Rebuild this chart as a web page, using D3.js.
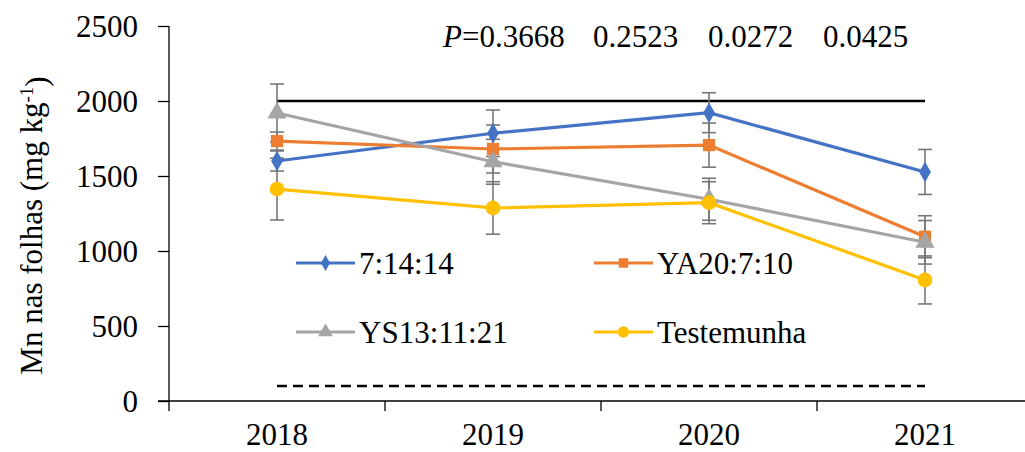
<!DOCTYPE html>
<html>
<head>
<meta charset="utf-8">
<script src="https://cdn.jsdelivr.net/npm/d3@7"></script>
<style>
  body { margin: 0; background: #fff; }
</style>
</head>
<body>
<script>
// Data
const years = ["2018", "2019", "2020", "2021"];
const seriesNames = ["7:14:14", "YA20:7:10", "YS13:11:21", "Testemunha"];
const valsA = [1600, 1785, 1922, 1527];
const valsB = [1733, 1680, 1706, 1095];
const valsC = [1920, 1595, 1345, 1058];
const valsD = [1413, 1287, 1322, 807];
const errA = [67, 155, 133, 150];
const errB = [60, 160, 147, 140];
const errC = [193, 150, 140, 145];
const errD = [206, 175, 140, 160];
const yTicks = [0, 500, 1000, 1500, 2000, 2500];
const pLabels = ["0.3668", "0.2523", "0.0272", "0.0425"];
const upperRef = 2000, lowerRef = 100;

const colors = ["#4472C4", "#ED7D31", "#A5A5A5", "#FFC000"];
const shapes = [d3.symbolDiamond, d3.symbolSquare, d3.symbolTriangle, d3.symbolCircle];
const symSize = [120, 150, 160, 170];
const FONT = "'Liberation Serif'";
const FS = 31;

const W = 1025, H = 452;
const margin = {top: 26, right: -8, bottom: 51, left: 169};

const svg = d3.select("body").append("svg")
  .attr("width", W).attr("height", H);

const x = d3.scaleBand().domain(years)
  .range([margin.left, W - margin.right]).padding(0);
const y = d3.scaleLinear().domain([0, 2500])
  .range([H - margin.bottom, margin.top]);
const cx = d => x(d) + x.bandwidth() / 2;

// y axis
const yAxis = svg.append("g")
  .attr("transform", `translate(${margin.left},0)`)
  .call(d3.axisLeft(y).tickValues(yTicks).tickFormat(d3.format("d"))
    .tickSize(11).tickPadding(20));
yAxis.attr("font-family", FONT).attr("font-size", FS);
yAxis.selectAll("text").attr("fill", "#000").attr("dy", "0.34em");
yAxis.selectAll("line, path").attr("stroke", "#000").attr("stroke-width", 1.3);
yAxis.select(".domain").attr("d", `M-0,${y(2500)}H0V${y(0)}`);

// x axis: labels at band centres, ticks at band edges
const xAxis = svg.append("g")
  .attr("transform", `translate(0,${y(0)})`)
  .call(d3.axisBottom(x).tickSize(0).tickPadding(22));
xAxis.attr("font-family", FONT).attr("font-size", FS);
xAxis.selectAll("text").attr("fill", "#000");
xAxis.select(".domain").attr("stroke", "#000").attr("stroke-width", 1.3)
  .attr("d", `M${margin.left - 11},0H${W - margin.right}`);
xAxis.selectAll(".edge").data(years.concat(["end"])).join("line")
  .attr("class", "edge")
  .attr("x1", (d, i) => margin.left + i * x.bandwidth())
  .attr("x2", (d, i) => margin.left + i * x.bandwidth())
  .attr("y1", 0).attr("y2", 10)
  .attr("stroke", "#000").attr("stroke-width", 1.3);

// reference lines
svg.append("line")
  .attr("x1", cx(years[0])).attr("x2", cx(years[3]))
  .attr("y1", y(upperRef)).attr("y2", y(upperRef))
  .attr("stroke", "#000").attr("stroke-width", 2.5);
svg.append("line")
  .attr("x1", cx(years[0])).attr("x2", cx(years[3]))
  .attr("y1", y(lowerRef)).attr("y2", y(lowerRef))
  .attr("stroke", "#000").attr("stroke-width", 2.5)
  .attr("stroke-dasharray", "10,6");

const series = [
  {name: seriesNames[0], v: valsA, e: errA},
  {name: seriesNames[1], v: valsB, e: errB},
  {name: seriesNames[2], v: valsC, e: errC},
  {name: seriesNames[3], v: valsD, e: errD}
];

// error bars
series.forEach(s => {
  const g = svg.append("g").attr("stroke", "#777").attr("stroke-width", 1.6);
  years.forEach((yr, i) => {
    const lo = y(s.v[i] - s.e[i]), hi = y(s.v[i] + s.e[i]);
    g.append("line").attr("x1", cx(yr)).attr("x2", cx(yr)).attr("y1", lo).attr("y2", hi);
    g.append("line").attr("x1", cx(yr) - 7).attr("x2", cx(yr) + 7).attr("y1", lo).attr("y2", lo);
    g.append("line").attr("x1", cx(yr) - 7).attr("x2", cx(yr) + 7).attr("y1", hi).attr("y2", hi);
  });
});

// lines and markers
const line = d3.line().x((d, i) => cx(years[i])).y(d => y(d));
series.forEach((s, k) => {
  svg.append("path").datum(s.v)
    .attr("d", line).attr("fill", "none")
    .attr("stroke", colors[k]).attr("stroke-width", 3.2);
  svg.append("g").selectAll("path").data(s.v).join("path")
    .attr("d", d3.symbol().type(shapes[k]).size(symSize[k]))
    .attr("transform", (d, i) => `translate(${cx(years[i])},${y(d)})`)
    .attr("fill", colors[k]);
});

// legend
const legPos = [[296, 263], [594, 263], [296, 332], [594, 332]];
series.forEach((s, k) => {
  const [lx, ly] = legPos[k];
  const g = svg.append("g").attr("transform", `translate(${lx},${ly})`);
  g.append("line").attr("x1", 0).attr("x2", 59).attr("y1", 0).attr("y2", 0)
    .attr("stroke", colors[k]).attr("stroke-width", 3.2);
  g.append("path").attr("d", d3.symbol().type(shapes[k]).size(symSize[k] * 0.6))
    .attr("transform", "translate(29.5,0)").attr("fill", colors[k]);
  g.append("text").attr("x", 63).attr("y", 11)
    .attr("font-family", FONT).attr("font-size", FS).text(s.name);
});

// P values
const pText = svg.append("text").attr("x", 443).attr("y", 47)
  .attr("font-family", FONT).attr("font-size", FS);
pText.append("tspan").attr("font-style", "italic").text("P");
pText.append("tspan").text("=" + pLabels[0]);
const pX = [593, 708, 823];
pLabels.slice(1).forEach((p, i) => {
  svg.append("text").attr("x", pX[i]).attr("y", 47)
    .attr("font-family", FONT).attr("font-size", FS).text(p);
});

// y label
const yl = svg.append("text")
  .attr("transform", `translate(42,${(y(0) + y(2500)) / 2 + 12}) rotate(-90)`)
  .attr("text-anchor", "middle").attr("font-family", FONT).attr("font-size", FS);
yl.append("tspan").text("Mn nas folhas (mg kg");
yl.append("tspan").attr("dy", "-0.45em").attr("font-size", 19).text("-1");
yl.append("tspan").attr("dy", "0.45em").text(")");
</script>
</body>
</html>
